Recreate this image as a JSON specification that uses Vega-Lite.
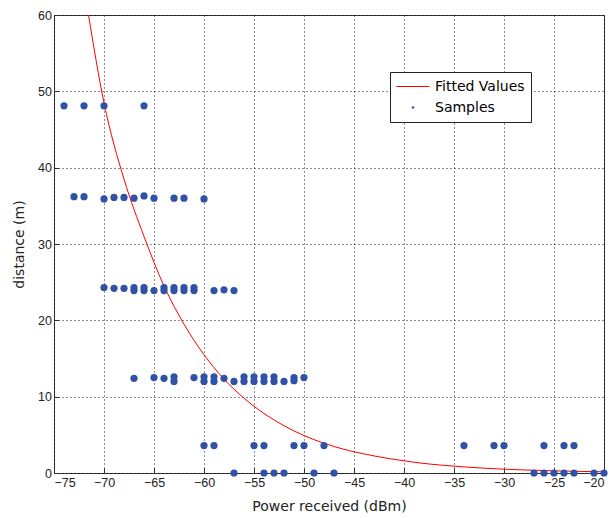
{
  "$schema": "https://vega.github.io/schema/vega-lite/v6.json",
  "width": 550,
  "height": 458,
  "autosize": {"type": "none"},
  "padding": {"left": 54, "top": 15, "right": 8, "bottom": 45},
  "background": "white",
  "config": {
    "view": {"stroke": "#3a3a3a", "strokeWidth": 1},
    "font": "Liberation Sans",
    "axis": {
      "grid": true,
      "gridColor": "#000000",
      "gridDash": [1, 3],
      "gridOpacity": 0.9,
      "gridWidth": 1,
      "domain": false,
      "ticks": true,
      "tickSize": -5,
      "tickColor": "#333333",
      "labelFont": "Liberation Sans",
      "labelFontSize": 12.5,
      "labelColor": "#222222",
      "titleFont": "DejaVu Sans",
      "titleFontSize": 14,
      "titleFontWeight": "normal",
      "titleColor": "#222222"
    }
  },
  "datasets": {
    "fit": [
      {"power": -71.55, "distance": 60},
      {"power": -70, "distance": 48.5},
      {"power": -68, "distance": 38.5},
      {"power": -66, "distance": 31},
      {"power": -64, "distance": 24.5},
      {"power": -62, "distance": 19.5},
      {"power": -60, "distance": 15.5},
      {"power": -58, "distance": 12.3},
      {"power": -56, "distance": 9.8},
      {"power": -54, "distance": 7.8},
      {"power": -52, "distance": 6.2},
      {"power": -50, "distance": 4.9},
      {"power": -48, "distance": 3.9},
      {"power": -46, "distance": 3.1},
      {"power": -44, "distance": 2.5},
      {"power": -42, "distance": 2.0},
      {"power": -40, "distance": 1.6},
      {"power": -38, "distance": 1.25},
      {"power": -36, "distance": 1.0},
      {"power": -34, "distance": 0.8},
      {"power": -32, "distance": 0.63},
      {"power": -30, "distance": 0.5},
      {"power": -28, "distance": 0.4},
      {"power": -26, "distance": 0.32},
      {"power": -24, "distance": 0.25},
      {"power": -22, "distance": 0.2},
      {"power": -20, "distance": 0.16}
    ],
    "samples": [
      {"power": -74, "distance": 48.1},
      {"power": -72, "distance": 48.1},
      {"power": -70, "distance": 48.1},
      {"power": -66, "distance": 48.1},
      {"power": -73, "distance": 36.2},
      {"power": -72, "distance": 36.2},
      {"power": -70, "distance": 35.9},
      {"power": -69, "distance": 36.1},
      {"power": -68, "distance": 36.1},
      {"power": -67, "distance": 36.0},
      {"power": -66, "distance": 36.3},
      {"power": -65, "distance": 36.0},
      {"power": -63, "distance": 36.0},
      {"power": -62, "distance": 36.0},
      {"power": -60, "distance": 35.9},
      {"power": -70, "distance": 24.3},
      {"power": -69, "distance": 24.2},
      {"power": -68, "distance": 24.2},
      {"power": -67, "distance": 23.9},
      {"power": -67, "distance": 24.3},
      {"power": -66, "distance": 23.9},
      {"power": -66, "distance": 24.3},
      {"power": -65, "distance": 23.9},
      {"power": -64, "distance": 23.9},
      {"power": -64, "distance": 24.3},
      {"power": -63, "distance": 23.9},
      {"power": -63, "distance": 24.3},
      {"power": -62, "distance": 23.9},
      {"power": -62, "distance": 24.3},
      {"power": -61, "distance": 23.9},
      {"power": -61, "distance": 24.3},
      {"power": -59, "distance": 23.9},
      {"power": -58, "distance": 24.0},
      {"power": -57, "distance": 23.9},
      {"power": -67, "distance": 12.4},
      {"power": -65, "distance": 12.5},
      {"power": -64, "distance": 12.4},
      {"power": -63, "distance": 12.0},
      {"power": -63, "distance": 12.6},
      {"power": -61, "distance": 12.5},
      {"power": -60, "distance": 12.0},
      {"power": -60, "distance": 12.6},
      {"power": -59, "distance": 12.0},
      {"power": -59, "distance": 12.6},
      {"power": -58, "distance": 12.4},
      {"power": -57, "distance": 12.0},
      {"power": -56, "distance": 12.0},
      {"power": -56, "distance": 12.6},
      {"power": -55, "distance": 12.0},
      {"power": -55, "distance": 12.6},
      {"power": -54, "distance": 12.0},
      {"power": -54, "distance": 12.6},
      {"power": -53, "distance": 12.0},
      {"power": -53, "distance": 12.6},
      {"power": -52, "distance": 12.0},
      {"power": -51, "distance": 12.1},
      {"power": -51, "distance": 12.5},
      {"power": -50, "distance": 12.5},
      {"power": -60, "distance": 3.6},
      {"power": -59, "distance": 3.6},
      {"power": -55, "distance": 3.6},
      {"power": -54, "distance": 3.6},
      {"power": -51, "distance": 3.6},
      {"power": -50, "distance": 3.6},
      {"power": -48, "distance": 3.6},
      {"power": -34, "distance": 3.6},
      {"power": -31, "distance": 3.6},
      {"power": -30, "distance": 3.6},
      {"power": -26, "distance": 3.6},
      {"power": -24, "distance": 3.6},
      {"power": -23, "distance": 3.6},
      {"power": -57, "distance": 0},
      {"power": -54, "distance": 0},
      {"power": -53, "distance": 0},
      {"power": -52, "distance": 0},
      {"power": -49, "distance": 0},
      {"power": -47, "distance": 0},
      {"power": -27, "distance": 0},
      {"power": -26, "distance": 0},
      {"power": -25, "distance": 0},
      {"power": -24, "distance": 0},
      {"power": -23, "distance": 0},
      {"power": -21, "distance": 0},
      {"power": -20, "distance": 0}
    ]
  },
  "encoding": {
    "x": {
      "field": "power",
      "type": "quantitative",
      "scale": {"domain": [-75, -20], "nice": false, "zero": false},
      "axis": {
        "values": [-75, -70, -65, -60, -55, -50, -45, -40, -35, -30, -25, -20],
        "title": "Power received (dBm)",
        "labelPadding": 8,
        "titlePadding": 11
      }
    },
    "y": {
      "field": "distance",
      "type": "quantitative",
      "scale": {"domain": [0, 60], "nice": false},
      "axis": {
        "values": [0, 10, 20, 30, 40, 50, 60],
        "title": "distance (m)",
        "labelPadding": 7.5,
        "titlePadding": 11
      }
    }
  },
  "layer": [
    {
      "data": {"name": "fit"},
      "mark": {"type": "line", "strokeWidth": 1, "interpolate": "monotone"},
      "encoding": {
        "color": {
          "datum": "Fitted Values",
          "type": "nominal",
          "scale": {"domain": ["Fitted Values", "Samples"], "range": ["#ff0000", "#2f52a6"]},
          "legend": {
            "orient": "none",
            "legendX": 336,
            "legendY": 57,
            "title": null,
            "fillColor": "white",
            "strokeColor": "#222222",
            "padding": 6,
            "symbolType": "stroke",
            "symbolSize": 1089,
            "symbolStrokeWidth": 1,
            "labelFont": "DejaVu Sans",
            "labelFontSize": 14,
            "labelColor": "#000000",
            "labelOffset": 5,
            "clipHeight": 17,
            "rowPadding": 4,
            "encode": {
              "symbols": {
                "update": {
                  "shape": {"signal": "datum.value === 'Samples' ? 'circle' : 'stroke'"},
                  "size": {"signal": "datum.value === 'Samples' ? 3 : 1089"},
                  "fill": {"signal": "datum.value === 'Samples' ? '#2f52a6' : 'transparent'"},
                  "stroke": {"signal": "datum.value === 'Samples' ? 'transparent' : '#ff0000'"},
                  "opacity": {"value": 1}
                }
              }
            }
          }
        }
      }
    },
    {
      "data": {"name": "samples"},
      "mark": {"type": "point", "filled": true, "size": 52, "opacity": 1, "shape": "circle"},
      "encoding": {
        "color": {"datum": "Samples", "type": "nominal"}
      }
    }
  ]
}
